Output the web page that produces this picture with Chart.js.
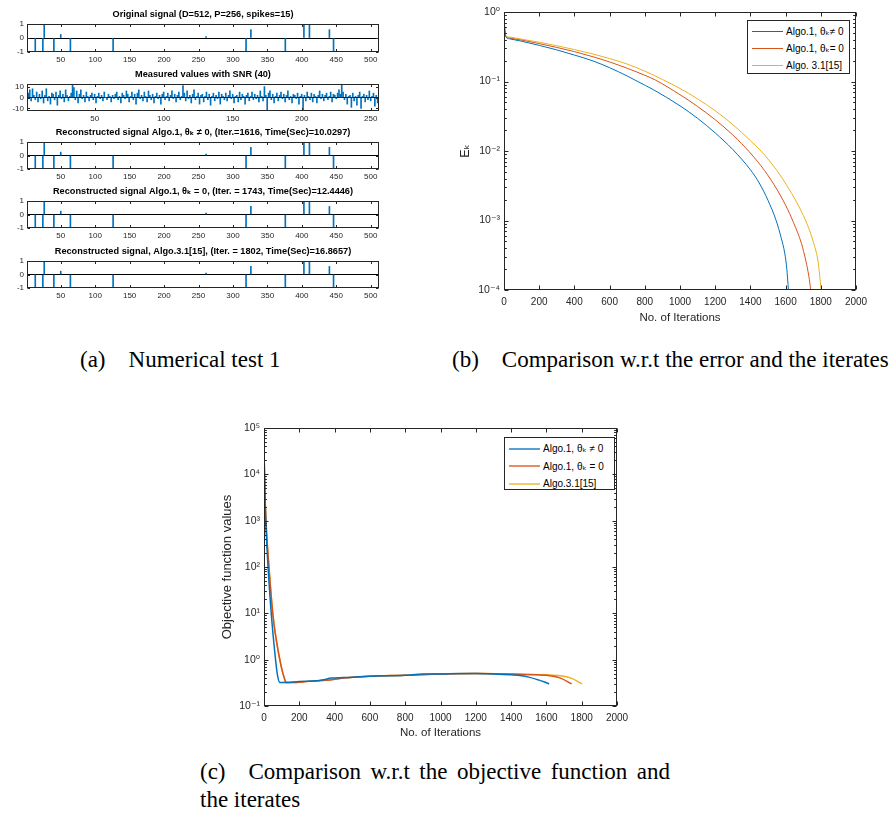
<!DOCTYPE html>
<html>
<head>
<meta charset="utf-8">
<script src="https://cdn.jsdelivr.net/npm/chart.js@4.4.1/dist/chart.umd.min.js"></script>
<style>
body{margin:0;background:#fff;width:892px;height:815px;position:relative;overflow:hidden;font-family:'Liberation Sans','DejaVu Sans',Arial,sans-serif}
canvas{position:absolute}
.cap{position:absolute;font-family:'Liberation Serif','Times New Roman',serif;font-size:23px;color:#000;line-height:28px}
.legend{position:absolute;box-sizing:border-box;border:1px solid #262626;background:#fff;font-size:10px;color:#000;padding:2px 0 0 4px}
.lrow{height:17px;display:flex;align-items:center;white-space:nowrap}
.lline{display:inline-block;width:31px;border-top:1px solid;margin-right:3px}
</style>
</head>
<body>
<div class="legend" id="legB" style="left:747px;top:20px;width:103px;height:54px"></div>
<div class="legend" id="legC" style="left:504px;top:437px;width:111px;height:53px"></div>
<div class="cap" style="left:80px;top:346px;white-space:nowrap">(a)&emsp;Numerical test 1</div>
<div class="cap" style="left:452px;top:346px;white-space:nowrap">(b)&emsp;Comparison w.r.t the error and the iterates</div>
<div class="cap" style="left:200px;top:758px;width:470px;text-align:justify;text-align-last:left">(c)&emsp;Comparison w.r.t the objective function and the iterates</div>
<script>
// ---- data ----
// original / reconstructed sparse signal (D=512, 15 spikes)
const spikeIdx = [13, 24, 26, 40, 50, 64, 126, 261, 319, 326, 376, 403, 411, 440, 446];
const origVal  = [-1, -1, 1, -1, 0.25, -1, -1, 0.1, -0.9, 0.6, -1, 1, 1, 0.6, -1];
const recA1Val = [-1, -1, 1, -1, 0.25, -1, -1, 0.1, -0.9, 0.6, -1, 1, 1, 0.6, -1];
const recA0Val = [-1, -1, 1, -1, 0.25, -1, -1, 0.1, -0.9, 0.6, -1, 1, 1, 0.6, -1];
const recA3Val = [-1, -1, 1, -1, 0.25, -1, -1, 0.1, -0.9, 0.6, -1, 1, 1, 0.6, -1];
const signalTicks = [50, 100, 150, 200, 250, 300, 350, 400, 450, 500];

// measured values, P=256
const measured = [
  -10, 4, 7, -3, 8, 2, -2, 5, -4, 3, -1, 6, -5, 2, 8, -3,
  1, -6, 4, 3, -2, 5, -7, 2, 6, -1, 3, -4, 7, 2, -3, 1,
  4, 12, 9, -2, 6, -5, 3, 7, -1, 2, -4, 5, 1, -3, 2, 4,
  -2, 3, -5, 1, 4, -1, 2, -3, 5, 0, -2, 3, 1, -4, 2, -1,
  3, 5, -2, 1, -5, 4, 2, -1, 6, 3, -4, 1, 5, -2, 3, -6,
  4, 7, -1, 2, -3, 5, 1, -4, 6, 2, -2, 3, -5, 1, 4, -1,
  2, -6, 3, 5, -2, 1, 4, -3, 2, 6, -1, 3, -4, 2, 5, -2,
  1, 11, 4, -3, 6, -1, 2, -5, 3, 7, -2, 1, 4, -6, 2, 3,
  -4, 1, 5, -2, 3, -7, 1, 4, -3, 2, -1, 5, -6, 3, 1, -2,
  4, -3, 2, 6, -1, 3, -5, 1, 2, -4, 5, -2, 3, 1, -6, 2,
  4, -3, 1, 5, -2, 3, -1, 2, -4, 6, 1, -3, 10, 2, -12, 4,
  6, -2, 3, -5, 1, 4, -3, 2, 5, -1, 3, -4, 2, 6, -2, 1,
  -5, 3, 2, -1, 4, -6, 1, 3, -12, 2, -3, 5, 1, -2, 4, -4,
  3, 1, -5, 2, 6, -1, 3, -3, 2, 4, -2, 1, 5, -4, 3, 2,
  -1, 4, 7, 3, 12, 5, -2, 3, -6, 1, 2, -9, 4, -3, 1, -7,
  2, 5, -10, 1, 3, -4, 2, -2, 6, -3, 1, 4, -8, 2, -5, 3
];
const measIdx = measured.map((v, i) => i + 1);
const measTicks = [50, 100, 150, 200, 250];

const seriesNamesB = ['Algo.1, \u03b8\u2096\u2260 0', 'Algo.1, \u03b8\u2096= 0', 'Algo. 3.1[15]'];
const seriesNamesC = ['Algo.1, \u03b8\u2096 \u2260 0', 'Algo.1, \u03b8\u2096 = 0', 'Algo.3.1[15]'];

// (b) error E_k vs iterations
const ekIterBlue = [1, 6, 11, 30, 100, 200, 300, 400, 500, 600, 700, 760, 850, 1000, 1100, 1200, 1300, 1400, 1450, 1500, 1545, 1575, 1595, 1607, 1616];
const ekBlue = [0.794, 0.501, 0.437, 0.412, 0.380, 0.331, 0.285, 0.240, 0.200, 0.158, 0.120, 0.100, 0.0759, 0.0447, 0.0295, 0.0182, 0.0105, 0.00537, 0.00347, 0.00195, 0.00102, 0.000562, 0.000339, 0.000200, 0.000100];
const ekIterRed = [1, 6, 11, 30, 100, 200, 300, 400, 500, 600, 700, 800, 860, 1000, 1100, 1200, 1300, 1400, 1480, 1550, 1600, 1645, 1690, 1715, 1732, 1743];
const ekRed = [0.759, 0.501, 0.442, 0.422, 0.394, 0.351, 0.309, 0.269, 0.229, 0.191, 0.155, 0.123, 0.105, 0.0646, 0.0437, 0.0282, 0.0170, 0.00933, 0.00525, 0.00282, 0.00166, 0.000933, 0.000468, 0.000263, 0.000158, 0.000100];
const ekIterYel = [1, 6, 11, 30, 100, 200, 300, 400, 500, 600, 700, 800, 900, 1000, 1100, 1200, 1300, 1400, 1460, 1550, 1620, 1680, 1722, 1760, 1785, 1802];
const ekYel = [0.851, 0.513, 0.452, 0.437, 0.407, 0.367, 0.327, 0.288, 0.251, 0.214, 0.178, 0.141, 0.107, 0.0794, 0.0562, 0.0380, 0.0240, 0.0141, 0.0100, 0.00525, 0.00282, 0.00151, 0.000891, 0.000468, 0.000251, 0.000100];

// (c) objective function values vs iterations
const objIterBlue = [1, 3, 10, 23, 42, 60, 75, 90, 120, 200, 300, 340, 380, 450, 600, 800, 900, 1000, 1100, 1200, 1300, 1400, 1460, 1500, 1550, 1590, 1616];
const objBlue = [24000, 8000, 1000, 100, 9, 1.6, 0.5, 0.32, 0.32, 0.34, 0.35, 0.37, 0.40, 0.41, 0.44, 0.46, 0.49, 0.49, 0.50, 0.50, 0.49, 0.47, 0.45, 0.42, 0.37, 0.33, 0.30];
const objIterRed = [1, 3, 10, 28, 51, 75, 98, 115, 126, 160, 250, 350, 450, 600, 800, 1000, 1200, 1400, 1550, 1620, 1680, 1743];
const objRed = [24000, 9000, 1200, 100, 9, 2, 0.7, 0.4, 0.32, 0.32, 0.34, 0.36, 0.40, 0.44, 0.46, 0.49, 0.50, 0.49, 0.47, 0.45, 0.40, 0.30];
const objIterYel = [1, 3, 10, 28, 51, 75, 98, 115, 126, 160, 250, 350, 450, 600, 800, 1000, 1200, 1400, 1600, 1680, 1740, 1802];
const objYel = [25000, 9000, 1200, 100, 9, 2, 0.7, 0.4, 0.32, 0.32, 0.34, 0.36, 0.40, 0.44, 0.46, 0.49, 0.50, 0.49, 0.47, 0.45, 0.40, 0.30];

const iterTicks = [0, 200, 400, 600, 800, 1000, 1200, 1400, 1600, 1800, 2000];
const ekTicks = [1e-4, 1e-3, 1e-2, 1e-1, 1];
const objTicks = [1e-1, 1, 1e1, 1e2, 1e3, 1e4, 1e5];

// ---- styling ----
const BLUE = '#0072BD', RED = '#D95319', YEL = '#EDB120', AX = '#262626';
Chart.defaults.font.family = "'Liberation Sans', 'DejaVu Sans', Arial, sans-serif";
Chart.defaults.color = AX;
Chart.defaults.animation = false;
Chart.defaults.plugins.legend.display = false;
Chart.defaults.plugins.tooltip.enabled = false;

const SUP = {'-': '\u207b', '0': '\u2070', '1': '\u00b9', '2': '\u00b2', '3': '\u00b3', '4': '\u2074', '5': '\u2075'};
function pow10Label(v) {
  const e = String(Math.round(Math.log10(v)));
  return '10' + e.split('').map(ch => SUP[ch]).join('');
}

// matlab style box with inward ticks
const boxFrame = {
  id: 'boxFrame',
  afterDatasetsDraw(chart, args, o) {
    const a = chart.chartArea, c = chart.ctx, len = o.len || 3;
    const L = Math.round(a.left) + 0.5, R = Math.round(a.right) - 0.5;
    const T = Math.round(a.top) + 0.5, B = Math.round(a.bottom) - 0.5;
    c.save();
    c.strokeStyle = AX;
    c.lineWidth = 1;
    c.strokeRect(L, T, R - L, B - T);
    c.beginPath();
    const x = chart.scales.x, y = chart.scales.y;
    x.ticks.forEach(t => {
      const p = Math.round(x.getPixelForValue(t.value)) + 0.5;
      c.moveTo(p, B); c.lineTo(p, B - len);
      c.moveTo(p, T); c.lineTo(p, T + len);
    });
    y.ticks.forEach(t => {
      const p = Math.round(y.getPixelForValue(t.value)) + 0.5;
      c.moveTo(L, p); c.lineTo(L + len, p);
      c.moveTo(R, p); c.lineTo(R - len, p);
    });
    if (y.type === 'logarithmic') {
      for (let e = Math.round(Math.log10(y.min)); e < Math.round(Math.log10(y.max)); e++) {
        for (let m = 2; m < 10; m++) {
          const p = Math.round(y.getPixelForValue(m * Math.pow(10, e))) + 0.5;
          c.moveTo(L, p); c.lineTo(L + len * 0.6, p);
          c.moveTo(R, p); c.lineTo(R - len * 0.6, p);
        }
      }
    }
    c.stroke();
    c.restore();
  }
};

// legend in a bordered html box, built from the datasets
const htmlLegend = {
  id: 'htmlLegend',
  afterUpdate(chart, args, o) {
    const box = document.getElementById(o.containerID);
    if (!box || box.childElementCount) return;
    chart.data.datasets.forEach(ds => {
      const row = document.createElement('div');
      row.className = 'lrow';
      row.style.height = o.rowH + 'px';
      const sw = document.createElement('span');
      sw.className = 'lline';
      sw.style.borderTopColor = o.swatch ? o.swatch(ds.borderColor) : ds.borderColor;
      sw.style.borderTopWidth = o.lineWidth + 'px';
      const tx = document.createElement('span');
      tx.textContent = ds.label;
      row.append(sw, tx);
      box.append(row);
    });
  }
};

function addCanvas(left, top, w, h) {
  const c = document.createElement('canvas');
  c.width = w; c.height = h;
  c.style.left = left + 'px';
  c.style.top = top + 'px';
  document.body.appendChild(c);
  return c;
}

function fixedX(h) { return s => { s.height = h; s.paddingLeft = 0; s.paddingRight = 0; }; }
function fixedY(w) { return s => { s.width = w; s.paddingTop = 0; s.paddingBottom = 0; }; }
function setTicks(list) { return s => { s.ticks = list.map(v => ({value: v})); }; }

// ---- left column: stem plots ----
const TITLE_H = 17.4;
function stemChart(boxTop, boxH, title, xs, ys, xMax, xTicks, yLim, yTicks) {
  const cv = addCanvas(0, boxTop - TITLE_H, 392, TITLE_H + boxH + 15);
  return new Chart(cv, {
    type: 'bar',
    data: {
      datasets: [{
        data: xs.map((x, i) => ({x: x, y: ys[i]})),
        backgroundColor: BLUE,
        barThickness: 1
      }]
    },
    options: {
      responsive: false,
      layout: {padding: {right: 13}},
      plugins: {
        title: {display: true, fullSize: false, text: title, color: '#000', font: {size: 9.2, weight: 'bold'}, padding: {top: 2, bottom: 4}},
        boxFrame: {len: 2.5}
      },
      scales: {
        x: {
          type: 'linear', min: 1, max: xMax, offset: false,
          afterBuildTicks: setTicks(xTicks), afterFit: fixedX(15),
          grid: {display: false, offset: false, drawTicks: false},
          border: {display: false},
          ticks: {font: {size: 8}, padding: 3, autoSkip: false, maxRotation: 0, callback: v => String(v)}
        },
        y: {
          min: -yLim, max: yLim,
          afterBuildTicks: setTicks(yTicks), afterFit: fixedY(27),
          grid: {drawTicks: false, color: c => (c.tick && c.tick.value === 0) ? '#000' : 'rgba(0,0,0,0)'},
          border: {display: false},
          ticks: {font: {size: 8}, padding: 3}
        }
      }
    },
    plugins: [boxFrame]
  });
}

stemChart(24, 28, 'Original signal (D=512, P=256, spikes=15)', spikeIdx, origVal, 512, signalTicks, 1, [-1, 0, 1]);
stemChart(84, 27, 'Measured values with SNR (40)', measIdx, measured, 256, measTicks, 12.3, [-10, 0, 10]);
stemChart(142, 27, 'Reconstructed signal Algo.1, \u03b8\u2096 \u2260 0, (Iter.=1616, Time(Sec)=10.0297)', spikeIdx, recA1Val, 512, signalTicks, 1, [-1, 0, 1]);
stemChart(201, 27, 'Reconstructed signal Algo.1, \u03b8\u2096 = 0, (Iter. = 1743, Time(Sec)=12.4446)', spikeIdx, recA0Val, 512, signalTicks, 1, [-1, 0, 1]);
stemChart(261, 27, 'Reconstructed signal, Algo.3.1[15], (Iter. = 1802, Time(Sec)=16.8657)', spikeIdx, recA3Val, 512, signalTicks, 1, [-1, 0, 1]);

// ---- log-scale convergence plots ----
function xy(xs, ys) { return xs.map((x, i) => ({x: x, y: ys[i]})); }

function logChart(cv, opt) {
  return new Chart(cv, {
    type: 'line',
    data: {
      datasets: opt.series.map(s => ({
        label: s.label, data: xy(s.x, s.y), borderColor: s.color,
        borderWidth: opt.lineWidth, pointRadius: 0, cubicInterpolationMode: 'monotone'
      }))
    },
    options: {
      responsive: false,
      layout: {padding: opt.padding},
      plugins: {boxFrame: {len: 4}, htmlLegend: opt.legend},
      scales: {
        x: {
          type: 'linear', min: 0, max: 2000,
          afterBuildTicks: setTicks(iterTicks), afterFit: fixedX(40),
          grid: {display: false, drawTicks: false}, border: {display: false},
          ticks: {font: {size: 10}, padding: 6, autoSkip: false, maxRotation: 0, callback: v => String(v)},
          title: {display: true, text: 'No. of Iterations', font: {size: 11.5}, padding: {top: 0, bottom: opt.xTitlePad}}
        },
        y: {
          type: 'logarithmic', min: opt.yTicks[0], max: opt.yTicks[opt.yTicks.length - 1],
          afterBuildTicks: setTicks(opt.yTicks), afterFit: fixedY(64),
          grid: {display: false, drawTicks: false}, border: {display: false},
          ticks: {font: {size: 10.5}, padding: 4, autoSkip: false, callback: v => pow10Label(v)},
          title: {display: true, text: opt.yTitle, font: {size: opt.yTitleSize}, padding: {top: opt.yTitlePad, bottom: 0}}
        }
      }
    },
    plugins: [boxFrame, htmlLegend]
  });
}

logChart(addCanvas(440, 0, 440, 330), {
  padding: {top: 12, right: 24},
  lineWidth: 1,
  yTicks: ekTicks,
  yTitle: 'E\u2096', yTitleSize: 12.5, yTitlePad: 18, xTitlePad: 5,
  legend: {containerID: 'legB', rowH: 17, lineWidth: 1},
  series: [
    {label: seriesNamesB[0], x: ekIterBlue, y: ekBlue, color: BLUE},
    {label: seriesNamesB[1], x: ekIterRed, y: ekRed, color: RED},
    {label: seriesNamesB[2], x: ekIterYel, y: ekYel, color: YEL}
  ]
});

logChart(addCanvas(200, 420, 440, 326), {
  padding: {top: 8, right: 23},
  lineWidth: 1.5,
  yTicks: objTicks,
  yTitle: 'Objective function values', yTitleSize: 13, yTitlePad: 20, xTitlePad: 6,
  legend: {containerID: 'legC', rowH: 17.5, lineWidth: 2, swatch: c => c + 'AA'},
  series: [
    {label: seriesNamesC[0], x: objIterBlue, y: objBlue, color: BLUE},
    {label: seriesNamesC[1], x: objIterRed, y: objRed, color: RED},
    {label: seriesNamesC[2], x: objIterYel, y: objYel, color: YEL}
  ]
});
</script>
</body>
</html>
